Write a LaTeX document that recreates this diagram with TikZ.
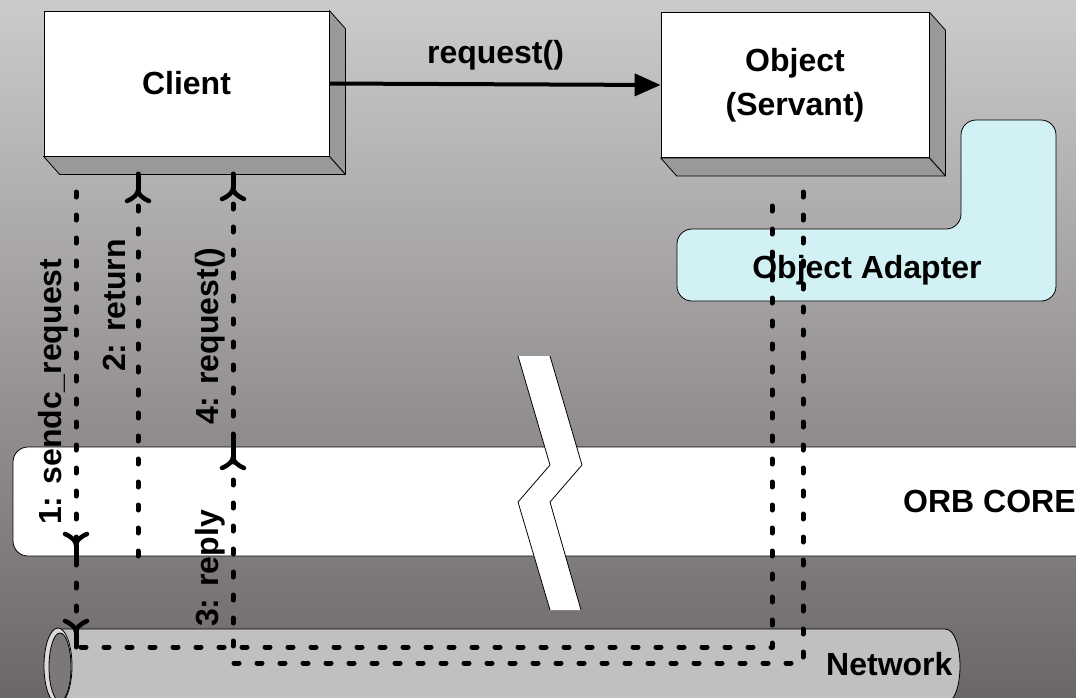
\documentclass[tikz,border=0pt]{standalone}
\usepackage{fontspec}
\setmainfont{Liberation Sans}
\usetikzlibrary{arrows.meta,calc}
\definecolor{bgtop}{RGB}{204,202,203}
\definecolor{bgbot}{RGB}{108,103,103}
\definecolor{boxside}{RGB}{153,153,153}
\definecolor{adaptfill}{RGB}{210,241,244}
\definecolor{netfill}{RGB}{192,192,192}
\definecolor{ringfill}{RGB}{218,218,218}
\definecolor{holefill}{RGB}{125,120,120}
\begin{document}
\begin{tikzpicture}[x=1pt,y=-1pt,
  every node/.style={font=\fontsize{32}{44}\selectfont\bfseries, text=black},
  box/.style={draw=black, line width=0.8pt, fill=white, minimum height=145pt, inner sep=0pt, align=center},
  side/.style={draw=black, line width=0.8pt, fill=boxside, line join=round},
  thinline/.style={draw=black, line width=0.8pt, line join=round},
  dline/.style={line width=5pt, dash pattern=on 5pt off 18pt, line cap=round, line join=round},
  stem/.style={line width=5pt, line cap=round},
  barbup/.pic={\draw[line width=4.5pt, line cap=round, line join=round]
      (-11,11) .. controls (-4,8) and (0,4) .. (0,0) .. controls (0,4) and (4,8) .. (11,11);},
  barbdown/.pic={\draw[line width=4.5pt, line cap=round, line join=round]
      (-11,-11) .. controls (-4,-8) and (0,-4) .. (0,0) .. controls (0,-4) and (4,-8) .. (11,-11);},
  lbl/.style={inner sep=0pt},
  vlbl/.style={inner sep=0pt, rotate=90, anchor=base west},
]
% background
\shade[top color=bgtop, bottom color=bgbot] (0,0) rectangle (1076,697);
\useasboundingbox (0,0) rectangle (1076,697);
\clip (0,0) rectangle (1076,697);

% ORB core band
\draw[thinline, fill=white, rounded corners=15pt] (13,447) rectangle (1090,556);

% break (zigzag)
\fill[white] (518,356) -- (550,356) -- (582,465) -- (550,502) -- (581,610) -- (550,610) -- (518,502) -- (550,465) -- cycle;
\draw[thinline] (518,356) -- (550,465) -- (518,502) -- (550,610);
\draw[thinline] (550,356) -- (582,465) -- (550,502) -- (581,610);

% network cylinder
\draw[thinline, fill=netfill] (58,629) -- (945,629) .. controls (965,629) and (965,703) .. (945,703) -- (58,703) -- cycle;
\draw[thinline, fill=ringfill] (58,666) ellipse [x radius=14pt, y radius=38pt];
\draw[thinline, fill=holefill] (60,667) ellipse [x radius=11pt, y radius=34pt];

% object adapter
\draw[thinline, fill=adaptfill, rounded corners=15pt] (677,229) -- (961,229) -- (961,120) -- (1056,120) -- (1056,301) -- (677,301) -- cycle;

% client box
\node[box, minimum width=285pt] (client) at (186.5,83.5) {Client};
\draw[side] (client.north east) -- ++(16,18) -- ($(client.south east)+(16,18)$) -- (client.south east) -- cycle;
\draw[side] (client.south west) -- ++(16,18) -- ($(client.south east)+(16,18)$) -- (client.south east) -- cycle;

% object box
\node[box, minimum width=268pt] (object) at (795,85) {Object\\(Servant)};
\draw[side] (object.north east) -- ++(16,18) -- ($(object.south east)+(16,18)$) -- (object.south east) -- cycle;
\draw[side] (object.south west) -- ++(16,18) -- ($(object.south east)+(16,18)$) -- (object.south east) -- cycle;

% request arrow
\draw[line width=4pt, -{Triangle[length=26pt,width=22pt]}] (client.east) -- (object.west);
\node[lbl, anchor=base] (reqlbl) at (495.5,63) {request()};

% texts
\node[lbl, anchor=base] (adlbl) at (867,278) {Object Adapter};
\node[lbl, anchor=base west] (orblbl) at (903,512) {ORB CORE};
\node[lbl, anchor=base west] (netlbl) at (826,675) {Network};

% line 1 / object side (sendc_request)
\coordinate (a0) at (76,192);
\coordinate (a1) at (76,545);
\coordinate (a2) at (76,632);
\coordinate (a3) at (76,647);
\coordinate (d0) at (772,647);
\coordinate (d1) at (772,192);
\draw[dline] (a0) -- (a3) -- (d0) -- (d1);
\draw[stem] (a1) -- (76,561);
\pic at (a1) {barbdown};
\draw[stem] (a2) -- (a3);
\pic at (a2) {barbdown};

% line 2 (return)
\coordinate (b0) at (138,556);
\coordinate (b1) at (138,190);
\coordinate (b2) at (138,174);
\draw[dline] (b0) -- (b1);
\draw[stem] (b1) -- (b2);
\pic at (b1) {barbup};

% lines 3 / 4 (reply, request())
\coordinate (e0) at (803,192);
\coordinate (e1) at (803,663);
\coordinate (c0) at (233,663);
\coordinate (c1) at (233,457);
\coordinate (c2) at (233,441);
\coordinate (c3) at (233,188);
\coordinate (c4) at (233,174);
\draw[dline] (e0) -- (e1) -- (c0) -- (c3);
\draw[stem] (c1) -- (c2);
\pic at (c1) {barbup};
\draw[stem] (c3) -- (c4);
\pic at (c3) {barbup};

% vertical labels
\node[vlbl] (l1) at (61,525) {1: sendc\_request};
\node[vlbl] (l2) at (125,372) {2: return};
\node[vlbl] (l4) at (218,425) {4: request()};
\node[vlbl] (l3) at (218,627) {3: reply};
\end{tikzpicture}
\end{document}
